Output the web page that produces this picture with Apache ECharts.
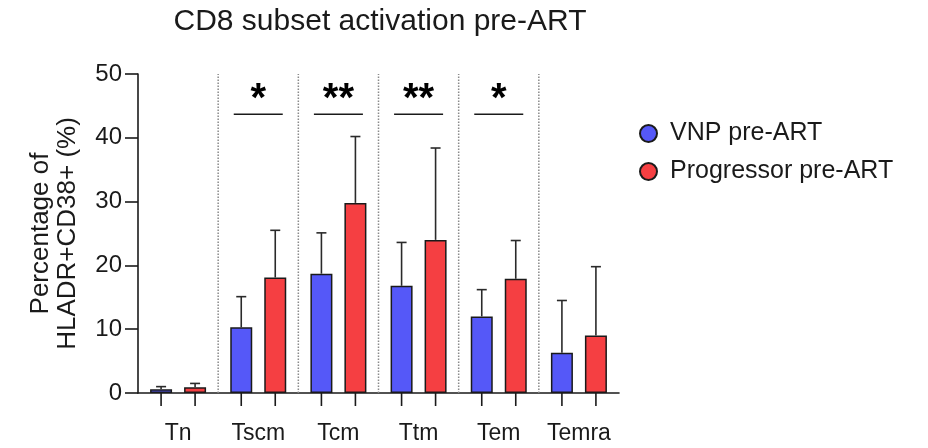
<!DOCTYPE html>
<html>
<head>
<meta charset="utf-8">
<script src="https://cdn.jsdelivr.net/npm/echarts@6/dist/echarts.min.js"></script>
<style>
  html, body { margin: 0; padding: 0; background: #fff; }
  #chart { width: 928px; height: 448px; }
</style>
</head>
<body>
<div id="chart"></div>
<script>
const categories = ['Tn', 'Tscm', 'Tcm', 'Ttm', 'Tem', 'Temra'];
const vnpMean   = [0.6, 10.3, 18.7, 16.8, 12.0, 6.3];
const vnpUpper  = [1.0, 15.1, 25.1, 23.6, 16.2, 14.5];
const progMean  = [0.9, 18.1, 29.8, 24.0, 17.9, 9.0];
const progUpper = [1.5, 25.5, 40.2, 38.4, 23.9, 19.8];
const sigMarks  = ['', '*', '**', '**', '*', ''];
const sigLineValue = 43.7;
const seriesNames = ['VNP pre-ART', 'Progressor pre-ART'];

const FONT = 'Liberation Sans, Arial, sans-serif';
const BLUE = '#5558F8';
const RED = '#F53F42';
const INK = '#1a1a1a';
const BAR_W = 22, BAR_GAP = 12;
const OFF = (BAR_W + BAR_GAP) / 2;

const chart = echarts.init(document.getElementById('chart'), null, { renderer: 'canvas' });

const errData = [];
categories.forEach((c, i) => {
  errData.push([i, vnpMean[i], vnpUpper[i], -1]);
  errData.push([i, progMean[i], progUpper[i], 1]);
});
const tickData = [];
categories.forEach((c, i) => { tickData.push([i, -1]); tickData.push([i, 1]); });
const sepData = categories.slice(1).map((c, i) => [i + 1]);
const sigData = [];
sigMarks.forEach((m, i) => { if (m) sigData.push([i, sigLineValue]); });

chart.setOption({
  animation: false,
  graphic: [{
    type: 'text', x: 380, y: 22,
    style: { text: 'CD8 subset activation pre-ART', font: '30px ' + FONT, fill: INK, textAlign: 'center', textVerticalAlign: 'middle' }
  }],
  legend: {
    orient: 'vertical', left: 634, top: 116,
    data: seriesNames,
    icon: 'circle', itemWidth: 17, itemHeight: 17, itemGap: 13,
    textStyle: { fontSize: 25, fontFamily: FONT, color: INK, padding: [0, 0, 0, 8] }
  },
  grid: { left: 138, right: 309, top: 74, bottom: 55 },
  xAxis: {
    type: 'category', data: categories,
    axisLine: { lineStyle: { color: INK, width: 1.6 } },
    axisTick: { show: false },
    axisLabel: { fontSize: 23, fontFamily: FONT, color: INK, margin: 29, interval: 0 }
  },
  yAxis: {
    type: 'value', min: 0, max: 50, interval: 10,
    axisLine: { show: true, lineStyle: { color: INK, width: 1.6 } },
    axisTick: { show: true, length: 13, lineStyle: { color: INK, width: 1.6 } },
    axisLabel: { fontSize: 24, fontFamily: FONT, color: INK, margin: 16 },
    splitLine: { show: false },
    name: 'Percentage of\nHLADR+CD38+ (%)',
    nameLocation: 'middle', nameRotate: 90, nameGap: 57,
    nameTextStyle: { fontSize: 26, fontFamily: FONT, color: INK, lineHeight: 27 }
  },
  series: [
    {
      name: seriesNames[0], type: 'bar', data: vnpMean, barWidth: BAR_W,
      barGap: (BAR_GAP / BAR_W * 100) + '%',
      itemStyle: { color: BLUE, borderColor: INK, borderWidth: 1.5 }, z: 3
    },
    {
      name: seriesNames[1], type: 'bar', data: progMean, barWidth: BAR_W,
      itemStyle: { color: RED, borderColor: INK, borderWidth: 1.5 }, z: 3
    },
    {
      type: 'custom', name: 'sep', data: sepData, clip: false, z: 1, silent: true,
      renderItem: (params, api) => {
        const band = api.size([1, 0])[0];
        const b = api.coord([api.value(0), 0]);
        const t = api.coord([api.value(0), 50]);
        const x = b[0] - band / 2;
        return { type: 'line', shape: { x1: x, y1: b[1], x2: x, y2: t[1] },
          style: { stroke: '#8a8a8a', lineWidth: 1.5, lineDash: [1.5, 1.5] } };
      }
    },
    {
      type: 'custom', name: 'err', data: errData, clip: false, z: 4, silent: true,
      renderItem: (params, api) => {
        const m = api.coord([api.value(0), api.value(1)]);
        const t = api.coord([api.value(0), api.value(2)]);
        const x = m[0] + api.value(3) * OFF;
        return { type: 'group', children: [
          { type: 'line', shape: { x1: x, y1: m[1], x2: x, y2: t[1] }, style: { stroke: '#2a2a2a', lineWidth: 1.6 } },
          { type: 'line', shape: { x1: x - 5, y1: t[1], x2: x + 5, y2: t[1] }, style: { stroke: '#2a2a2a', lineWidth: 1.6 } }
        ] };
      }
    },
    {
      type: 'custom', name: 'ticks', data: tickData, clip: false, z: 4, silent: true,
      renderItem: (params, api) => {
        const p = api.coord([api.value(0), 0]);
        const x = p[0] + api.value(1) * OFF;
        return { type: 'line', shape: { x1: x, y1: p[1], x2: x, y2: p[1] + 13 },
          style: { stroke: INK, lineWidth: 1.6 } };
      }
    },
    {
      type: 'custom', name: 'sig', data: sigData, clip: false, z: 4, silent: true,
      renderItem: (params, api) => {
        const i = api.value(0);
        const p = api.coord([i, api.value(1)]);
        return { type: 'group', children: [
          { type: 'line', shape: { x1: p[0] - 24.5, y1: p[1], x2: p[0] + 24.5, y2: p[1] }, style: { stroke: INK, lineWidth: 1.6 } },
          { type: 'text', x: p[0], y: p[1] - 14,
            style: { text: sigMarks[i], font: 'bold 40px ' + FONT, fill: '#000', textAlign: 'center', textVerticalAlign: 'middle' } }
        ] };
      }
    }
  ]
});
</script>
</body>
</html>
